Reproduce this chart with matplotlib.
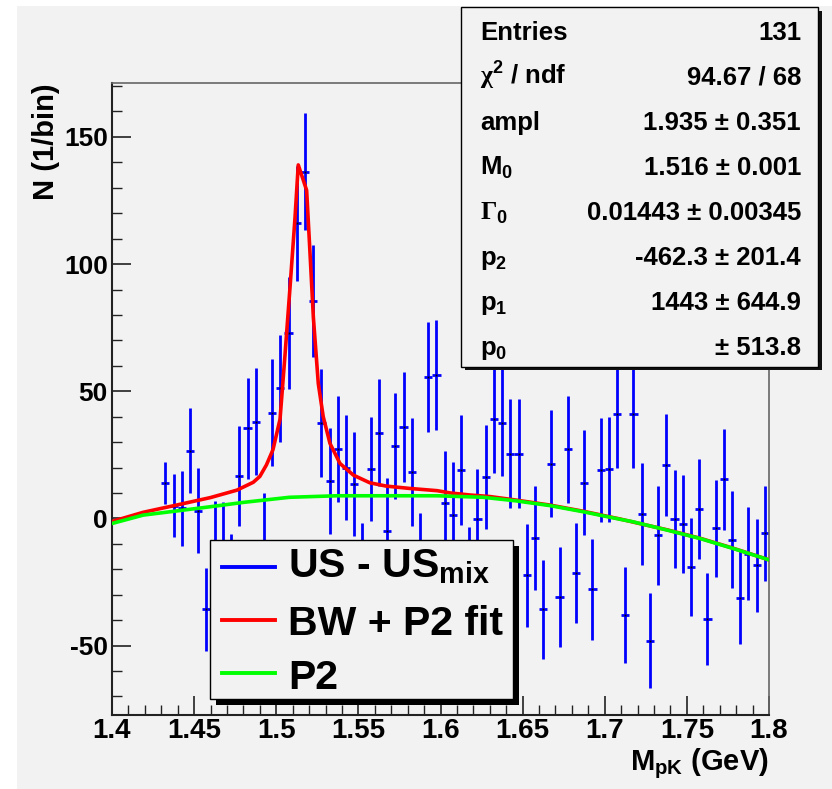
import numpy as np
import matplotlib
matplotlib.use("Agg")
import matplotlib.pyplot as plt
from matplotlib.patches import Rectangle
from matplotlib.lines import Line2D
from matplotlib.ticker import MultipleLocator, FuncFormatter

plt.rcParams['font.family'] = ['Liberation Sans', 'DejaVu Sans']
plt.rcParams['font.weight'] = 'bold'
plt.rcParams['axes.unicode_minus'] = False
plt.rcParams['mathtext.fontset'] = 'custom'
plt.rcParams['mathtext.rm'] = 'Liberation Sans:bold'
plt.rcParams['mathtext.bf'] = 'Liberation Sans:bold'
plt.rcParams['mathtext.it'] = 'Liberation Sans:bold'
plt.rcParams['mathtext.sf'] = 'Liberation Serif'

# histogram: 80 bins of 0.005 GeV, filled from bin 6 on
bin_width = 0.005
first_center = 1.4325
counts = [13.9, 5.0, 3.9, 26.7, 3.1, -35.8, -11.0, -12.0, -25.0, 16.7,
          35.4, 38.1, -10.0, 41.6, 51.1, 73.0, 116.0, 136.3, 85.4, 37.6,
          14.7, 27.2, 20.0, 13.4, -22.0, 19.4, 33.7, -5.0, 28.4, 36.0,
          18.3, -18.0, 55.7, 56.3, 6.1, 1.3, 19.0, -23.5, -0.4, 16.4,
          38.9, 37.6, 25.5, 25.5, -22.4, -7.7, -35.8, 21.5, -30.9, 27.2,
          -21.4, 14.1, -27.9, 19.0, 19.3, 41.0, -38.0, 41.0, 1.6, -48.1,
          -6.6, 21.0, -0.3, -2.2, -19.0, 3.7, -39.6, -3.9, 15.3, -8.3,
          -31.2, -13.8, -18.4, -5.9]
errors = [8.3, 12.5, 14.7, 16.6, 16.8, 16.3, 18.0, 18.5, 19.0, 19.6,
          20.0, 21.0, 20.0, 21.0, 21.2, 22.1, 22.5, 23.0, 22.0, 21.2,
          20.8, 20.8, 20.8, 20.5, 20.0, 20.6, 21.0, 20.7, 20.9, 21.6,
          21.1, 20.0, 21.6, 21.6, 20.5, 20.7, 21.7, 20.0, 20.0, 20.4,
          21.0, 21.0, 21.3, 21.3, 20.2, 20.3, 19.6, 21.1, 19.6, 21.0,
          19.7, 20.8, 19.8, 20.4, 20.6, 21.0, 19.0, 21.0, 20.1, 18.7,
          19.4, 20.1, 19.3, 19.1, 19.3, 19.6, 18.1, 19.1, 19.7, 19.0,
          18.2, 18.3, 18.3, 18.7]
mass = first_center + bin_width * np.arange(len(counts))

# fit curves
fit_x = [1.400, 1.419, 1.439, 1.460, 1.476, 1.486, 1.490, 1.494, 1.498,
         1.5023, 1.5053, 1.5084, 1.5114, 1.5134, 1.5185, 1.5205, 1.5226,
         1.5256, 1.5286, 1.5327, 1.5388, 1.547, 1.557, 1.567, 1.581,
         1.598, 1.606, 1.618, 1.630, 1.646, 1.667, 1.687, 1.709, 1.738,
         1.758, 1.778, 1.800]
fit_y = [-1.2, 2.4, 5.2, 8.2, 11.1, 14.2, 16.5, 21.0, 27.0,
         39.0, 64.0, 91.0, 118.0, 139.0, 129.0, 105.0, 79.0,
         53.0, 40.0, 29.5, 21.6, 17.0, 14.0, 12.7, 11.8,
         10.9, 10.0, 9.2, 8.6, 7.2, 5.2, 2.8, -0.2, -4.5,
         -7.8, -11.7, -16.3]
p2_x = [1.400, 1.419, 1.439, 1.460, 1.480, 1.508, 1.537, 1.557, 1.598,
        1.626, 1.646, 1.667, 1.687, 1.709, 1.717, 1.738, 1.758, 1.778, 1.800]
p2_y = [-2.0, 1.3, 2.9, 4.6, 6.3, 8.3, 8.9, 8.9, 8.9,
        8.3, 6.9, 5.0, 2.6, -0.3, -1.3, -4.6, -7.9, -11.8, -16.3]

stat_names = ['Entries', r'$\mathsf{\chi}^{\mathbf{2}}$ / ndf', 'ampl',
              r'M$_{\mathbf{0}}$', r'$\mathsf{\Gamma}_{\mathbf{0}}$',
              r'p$_{\mathbf{2}}$', r'p$_{\mathbf{1}}$', r'p$_{\mathbf{0}}$']
stat_values = ['131', '94.67 / 68', '1.935 ± 0.351', '1.516 ± 0.001',
               '0.01443 ± 0.00345', '-462.3 ± 201.4', '1443 ± 644.9', '± 513.8']

W, H = 832, 789
bg = '#f2f2f2'
fig = plt.figure(figsize=(W / 100, H / 100), dpi=100, facecolor=bg)


def fx(px):
    return px / W


def fy(py):
    return 1 - py / H


def rect(x0, y0, x1, y1, **kw):
    r = Rectangle((fx(x0), fy(y1)), (x1 - x0) / W, (y1 - y0) / H,
                  transform=fig.transFigure, **kw)
    fig.add_artist(r)


# white margin at left and top
rect(0, 0, 17, H, facecolor='white', edgecolor='none', zorder=-5)
rect(0, 0, W, 6, facecolor='white', edgecolor='none', zorder=-5)

ax_l, ax_r, ax_t, ax_b = 112, 769, 83, 715
ax = fig.add_axes([fx(ax_l), fy(ax_b), (ax_r - ax_l) / W, (ax_b - ax_t) / H])
ax.set_facecolor(bg)

ax.errorbar(mass, counts, yerr=errors, xerr=bin_width / 2, fmt='none',
            ecolor='#0000ff', elinewidth=2.0, capsize=0, zorder=2)
ax.plot(mass, counts, 's', color='black', ms=1.3, mew=0, zorder=2.5)
ax.plot(fit_x, fit_y, color='#ff0000', lw=2.6, zorder=3)
ax.plot(p2_x, p2_y, color='#00ff00', lw=2.6, zorder=3.5)

ax.set_xlim(1.4, 1.8)
ax.set_ylim(-77.3, 171.2)
ax.xaxis.set_major_locator(MultipleLocator(0.05))
ax.xaxis.set_minor_locator(MultipleLocator(0.01))
ax.yaxis.set_major_locator(MultipleLocator(50))
ax.yaxis.set_minor_locator(MultipleLocator(10))
ax.xaxis.set_major_formatter(FuncFormatter(lambda v, p: '%g' % round(v, 3)))
ax.tick_params(which='both', direction='in', top=False, right=False, color='#222222')
ax.tick_params(which='major', length=14, width=1.2)
ax.tick_params(which='minor', length=7, width=1.0)
ax.tick_params(axis='x', labelsize=20, pad=2)
ax.tick_params(axis='y', labelsize=19, pad=3)
for s in ['left', 'bottom']:
    ax.spines[s].set_color('#222222')
    ax.spines[s].set_linewidth(1.5)
for s in ['top', 'right']:
    ax.spines[s].set_color('#666666')
    ax.spines[s].set_linewidth(1.2)

fig.text(fx(46), fy(83), 'N (1/bin)', rotation=90, ha='center', va='top',
         fontsize=21, fontweight='bold')
fig.text(fx(769), fy(770), r'M$_{\mathbf{pK}}$ (GeV)', ha='right', va='baseline',
         fontsize=21, fontweight='bold')

# stats box
rect(465, 11, 822, 370, facecolor='#111111', edgecolor='none', zorder=5)
rect(461, 7, 818, 367, facecolor=bg, edgecolor='black', lw=1.0, zorder=5.5)
for k, (name, val) in enumerate(zip(stat_names, stat_values)):
    base = 39.5 + 45.1 * k
    fig.text(fx(480), fy(base), name, ha='left', va='baseline',
             fontsize=18.5, fontweight='bold', zorder=6)
    fig.text(fx(801), fy(base), val, ha='right', va='baseline',
             fontsize=18.5, fontweight='bold', zorder=6)

# legend box
rect(216, 546, 519, 705, facecolor='black', edgecolor='none', zorder=5)
rect(210, 540, 513, 699, facecolor=bg, edgecolor='black', lw=1.0, zorder=5.5)
leg_items = [('#0000ff', r'US - US$_{\mathbf{mix}}$', 567, 577),
             ('#ff0000', 'BW + P2 fit', 620, 635),
             ('#00ff00', 'P2', 673, 689)]
for col, lab, ly, tb in leg_items:
    fig.add_artist(Line2D([fx(222), fx(275)], [fy(ly), fy(ly)], color=col,
                          lw=2.8, transform=fig.transFigure, zorder=6))
    fig.text(fx(288), fy(tb), lab, ha='left', va='baseline', fontsize=29.5,
             fontweight='bold', zorder=6)

fig.savefig('out.png', dpi=100, facecolor=bg)
